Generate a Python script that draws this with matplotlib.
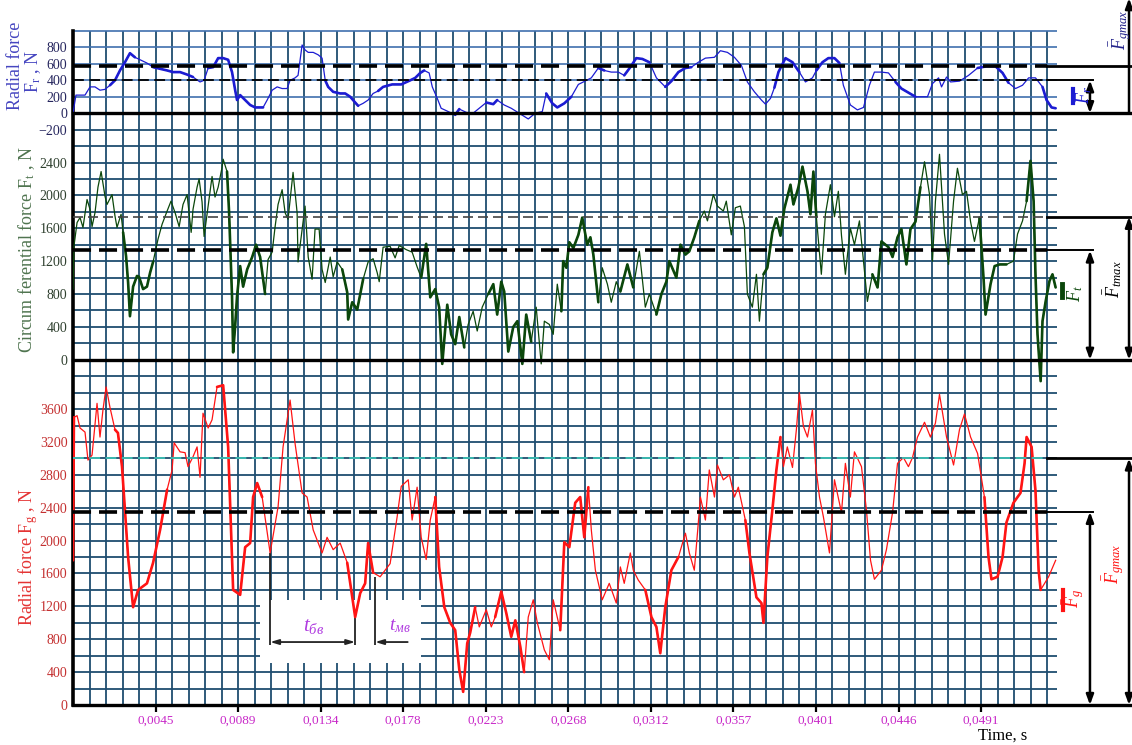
import numpy as np
import matplotlib.pyplot as plt
from matplotlib import transforms
from matplotlib.patches import Rectangle

plt.rcParams['font.family'] = ['Liberation Serif', 'DejaVu Serif']
plt.rcParams['mathtext.fontset'] = 'custom'
plt.rcParams['mathtext.rm'] = 'Liberation Serif'
plt.rcParams['mathtext.it'] = 'Liberation Serif:italic'

# ---- measured signals: time in ms, force in N ----
fr_t = [0.00, 0.16, 0.38, 0.65, 0.92, 1.19, 1.46, 1.73, 2.00, 2.27, 2.54, 2.81, 3.08, 3.35, 3.63,
        4.00, 4.33, 4.71, 5.09, 5.41, 5.79, 6.17, 6.49, 6.87, 7.09, 7.31, 7.58, 7.85, 8.12, 8.39,
        8.60, 8.77, 8.87, 9.04, 9.31, 9.58, 9.85, 10.12, 10.28, 10.50, 10.77, 11.04, 11.31, 11.58,
        11.74, 12.01, 12.17, 12.39, 12.55, 12.72, 12.99, 13.26, 13.47, 13.64, 13.80, 14.07, 14.45,
        14.72, 14.99, 15.26, 15.42, 15.69, 15.96, 16.23, 16.50, 16.77, 17.26, 17.75, 18.24, 18.51,
        18.78, 18.99, 19.26, 19.43, 19.70, 19.91, 20.29, 20.67, 20.89, 21.27, 21.64, 21.97, 22.35,
        22.73, 22.94, 23.32, 23.70, 24.19, 24.62, 25.00, 25.38, 25.59, 25.92, 26.19, 26.57, 26.95,
        27.33, 27.60, 28.03, 28.41, 28.73, 29.11, 29.49, 29.81, 30.14, 30.46, 30.79, 31.17, 31.55,
        32.03, 32.36, 32.74, 33.12, 33.44, 33.82, 34.20, 34.69, 35.01, 35.39, 35.77, 36.15, 36.47,
        36.85, 37.23, 37.45, 37.72, 37.93, 38.15, 38.53, 38.91, 39.28, 39.61, 39.99, 40.20, 40.53,
        40.85, 41.18, 41.45, 41.66, 42.04, 42.42, 42.75, 43.07, 43.34, 43.72, 44.10, 44.48, 44.80,
        45.18, 45.56, 45.89, 46.21, 46.48, 46.81, 46.97, 47.24, 47.46, 47.94, 48.43, 48.92, 49.40,
        49.89, 50.27, 50.59, 50.97, 51.35, 51.68, 52.05, 52.43, 52.65, 52.92, 53.14]
fr_v = [0, 220, 220, 220, 320, 320, 280, 290, 340, 400, 520, 620, 730, 680, 650,
        610, 560, 540, 520, 500, 500, 470, 440, 380, 400, 550, 560, 670, 670, 650,
        500, 280, 160, 220, 160, 100, 70, 70, 70, 160, 280, 320, 300, 300,
        400, 430, 460, 830, 770, 740, 740, 710, 670, 400, 320, 260, 240,
        240, 200, 130, 90, 120, 160, 240, 270, 320, 350, 350, 400, 430,
        490, 520, 490, 320, 180, 60, 20, -20, 50, 10, 0, 60, 130,
        110, 160, 100, 60, -10, -70, 0, 20, 240, 120, 70, 120, 200,
        350, 380, 430, 550, 520, 500, 500, 460, 560, 670, 660, 620, 430,
        320, 390, 500, 550, 560, 620, 670, 680, 760, 740, 680, 580, 380,
        260, 160, 110, 180, 310, 500, 670, 620, 500, 380, 430, 520, 620,
        670, 670, 610, 340, 100, 40, 70, 340, 500, 500, 490, 380, 300,
        250, 200, 200, 200, 360, 430, 320, 440, 380, 390, 460, 550, 570,
        570, 490, 370, 300, 340, 430, 430, 320, 160, 70, 60]

ft_t = [0.00, 0.05, 0.22, 0.38, 0.54, 0.76, 0.92, 1.03, 1.19, 1.35, 1.52, 1.73, 1.84, 2.11, 2.27,
        2.38, 2.60, 2.71, 2.87, 2.98, 3.08, 3.25, 3.46, 3.57, 3.79, 4.00, 4.17, 4.33, 4.60, 4.82,
        5.09, 5.30, 5.52, 5.74, 5.95, 6.17, 6.39, 6.49, 6.71, 6.82, 6.98, 7.09, 7.31, 7.52, 7.68,
        7.85, 8.06, 8.12, 8.33, 8.44, 8.60, 8.66, 8.77, 8.87, 9.04, 9.20, 9.42, 9.69, 9.90, 10.12,
        10.39, 10.55, 10.77, 10.93, 11.09, 11.31, 11.47, 11.63, 11.90, 12.12, 12.17, 12.39, 12.55,
        12.72, 12.93, 13.09, 13.31, 13.47, 13.64, 13.91, 14.07, 14.29, 14.56, 14.83, 14.88, 15.10,
        15.37, 15.69, 15.96, 16.23, 16.45, 16.56, 16.77, 17.15, 17.42, 17.64, 18.02, 18.34, 18.61,
        18.83, 19.10, 19.32, 19.59, 19.80, 19.97, 20.24, 20.45, 20.67, 20.89, 21.16, 21.37, 21.64,
        21.86, 22.13, 22.46, 22.73, 22.94, 23.16, 23.32, 23.54, 23.81, 24.03, 24.30, 24.51, 24.78,
        25.05, 25.32, 25.49, 25.76, 25.97, 26.19, 26.41, 26.51, 26.68, 26.84, 27.06, 27.33, 27.54,
        27.81, 27.98, 28.14, 28.41, 28.62, 28.90, 29.11, 29.38, 29.60, 29.98, 30.30, 30.63, 30.95,
        31.17, 31.55, 31.82, 32.09, 32.25, 32.63, 32.85, 33.12, 33.33, 33.60, 33.87, 34.14, 34.31,
        34.63, 34.85, 35.17, 35.33, 35.60, 35.82, 36.09, 36.31, 36.47, 36.74, 36.96, 37.12, 37.34,
        37.55, 37.82, 38.04, 38.26, 38.47, 38.80, 38.96, 39.23, 39.45, 39.72, 39.88, 40.04, 40.20,
        40.47, 40.69, 40.96, 41.18, 41.39, 41.56, 41.77, 42.04, 42.26, 42.53, 42.75, 42.96, 43.23,
        43.51, 43.72, 44.10, 44.32, 44.59, 44.80, 45.07, 45.29, 45.56, 45.83, 46.05, 46.32, 46.48,
        46.64, 46.86, 47.13, 47.35, 47.62, 47.83, 48.10, 48.32, 48.54, 48.75, 49.02, 49.24, 49.35,
        49.62, 49.84, 50.11, 50.48, 50.86, 51.08, 51.35, 51.57, 51.78, 51.95, 52.05, 52.16, 52.33,
        52.43, 52.60, 52.81, 52.97, 53.14]
ft_v = [860, 1380, 1670, 1730, 1610, 1950, 1830, 1620, 1790, 2100, 2290, 1990, 1890, 2010, 1750,
        1610, 1770, 1550, 1260, 940, 530, 890, 1020, 1010, 860, 890, 1060, 1190, 1470, 1650,
        1810, 1930, 1790, 1620, 1890, 2010, 1550, 1830, 2100, 2200, 1920, 1500, 1870, 2230, 1980,
        2100, 2340, 2440, 2290, 1800, 770, 90, 410, 770, 1140, 890, 1100, 1250, 1400, 1250,
        800, 1220, 1310, 1620, 1890, 2070, 1790, 1710, 2280, 1790, 1190, 1590, 1870,
        1250, 980, 1590, 1590, 1100, 940, 1250, 1010, 1190, 1100, 820, 490, 700,
        610, 980, 1190, 1230, 1060, 950, 1370, 1380, 1240, 1390, 1340, 1310, 1130,
        1000, 1410, 760, 860, 640, -50, 670, 310, 190, 520, 150, 430, 590,
        350, 640, 800, 920, 550, 950, 830, 100, 400, 470, -50, 550, 220,
        640, -50, 470, 430, 310, 920, 590, 1200, 1120, 1430, 1360, 1520, 1730,
        1400, 1490, 1280, 700, 1120, 920, 700, 950, 830, 1160, 880, 1320, 640,
        800, 550, 800, 950, 1200, 1000, 1400, 1280, 1320, 1490, 1690, 1810, 1690,
        2010, 1870, 1810, 1930, 1520, 1850, 1870, 1620, 800, 640, 1040, 470, 1040,
        1120, 1550, 1720, 1510, 1840, 2130, 1890, 2100, 2350, 2050, 1770, 2290, 1740,
        1040, 1770, 2130, 1740, 2050, 1510, 1040, 1600, 1400, 1690, 1200, 710, 1040,
        880, 1440, 1370, 1250, 1490, 1590, 1160, 1590, 1680, 2100, 2410, 2010, 1200,
        1930, 2500, 1530, 1160, 1930, 2330, 2010, 2050, 1680, 1440, 1730, 1000, 550,
        920, 1140, 1160, 1160, 1200, 1530, 1690, 1930, 2420, 1930, 1040, 310, -260,
        470, 710, 960, 1040, 880]

fg_t = [0.00, 0.05, 0.22, 0.38, 0.65, 0.81, 1.03, 1.30, 1.46, 1.62, 1.79, 2.00, 2.27, 2.43, 2.65,
        2.81, 2.98, 3.25, 3.52, 4.00, 4.33, 4.71, 5.09, 5.36, 5.47, 5.79, 6.06, 6.22, 6.49, 6.71,
        6.87, 7.03, 7.31, 7.52, 7.79, 8.12, 8.39, 8.66, 9.04, 9.31, 9.58, 9.74, 9.96, 10.23, 10.66,
        11.09, 11.36, 11.74, 12.01, 12.39, 12.66, 12.99, 13.47, 13.74, 14.07, 14.45, 14.83, 15.26,
        15.53, 15.80, 15.96, 16.23, 16.61, 17.15, 17.53, 17.75, 18.13, 18.34, 18.61, 18.83, 19.10,
        19.32, 19.59, 19.80, 20.08, 20.40, 20.67, 20.89, 21.10, 21.32, 21.48, 21.75, 21.97, 22.35,
        22.62, 22.83, 23.16, 23.43, 23.70, 23.92, 24.19, 24.40, 24.62, 24.89, 25.11, 25.49, 25.76,
        25.97, 26.35, 26.57, 26.84, 27.16, 27.43, 27.65, 27.87, 28.03, 28.25, 28.62, 29.00, 29.38,
        29.60, 29.81, 30.14, 30.30, 30.57, 30.95, 31.28, 31.55, 31.76, 32.03, 32.36, 32.74, 33.12,
        33.33, 33.60, 33.77, 33.93, 34.20, 34.41, 34.69, 34.85, 35.17, 35.50, 35.77, 35.98, 36.36,
        36.58, 36.96, 37.23, 37.34, 37.55, 37.82, 38.04, 38.26, 38.42, 38.63, 38.91, 39.12, 39.28,
        39.50, 39.72, 39.99, 40.15, 40.37, 40.58, 40.91, 41.18, 41.56, 41.77, 42.04, 42.26, 42.64,
        42.91, 43.13, 43.34, 43.72, 43.99, 44.32, 44.59, 44.91, 45.18, 45.40, 45.67, 46.05, 46.37,
        46.64, 46.86, 47.24, 47.62, 47.94, 48.21, 48.54, 48.92, 49.29, 49.51, 49.67, 50.00, 50.27,
        50.48, 50.86, 51.24, 51.46, 51.57, 51.84, 52.05, 52.16, 52.22, 52.33, 52.76, 53.14]
fg_v = [1760, 3500, 3520, 3370, 3320, 2980, 3040, 3670, 3260, 3590, 3870, 3620, 3350, 3310, 2900,
        2370, 1800, 1190, 1400, 1480, 1730, 2130, 2620, 2860, 3190, 3080, 3070, 2900, 3020, 3140,
        2770, 3550, 3370, 3470, 3870, 3890, 3140, 1400, 1340, 1920, 1970, 2530, 2700, 2530, 1850,
        2410, 3140, 3710, 3180, 2580, 2530, 2130, 1850, 2040, 1890, 1970, 1730, 1070,
        1360, 1480, 1970, 1610, 1560, 1720, 2290, 2660, 2740, 2250, 2650, 2040, 1770,
        2250, 2530, 1680, 1190, 1000, 910, 430, 160, 750, 880, 1190, 950, 1160,
        950, 1070, 1380, 1120, 830, 1030, 710, 400, 1070, 1280, 1000, 670, 550,
        1280, 910, 1980, 1920, 2460, 2530, 2040, 2650, 2130, 1640, 1280, 1480, 1240,
        1680, 1480, 1850, 1640, 1520, 1400, 1070, 950, 630, 1190, 1640, 1800, 2090,
        1850, 1640, 2090, 2530, 2250, 2860, 2530, 2920, 2740, 2800, 2530, 2650, 2250,
        1850, 1310, 1240, 1000, 1800, 2370, 2860, 3260, 2900, 3140, 2890, 3350, 3800,
        3390, 3260, 3590, 2940, 2530, 2290, 1850, 2740, 2340, 2940, 2530, 3080, 2900,
        2370, 1760, 1530, 1640, 1890, 2340, 2940, 3010, 2900, 3010, 3260, 3440, 3260,
        3430, 3780, 3260, 2920, 3350, 3540, 3260, 3060, 2530, 1800, 1530, 1560, 1800,
        2220, 2460, 2580, 2940, 3260, 3140, 2610, 1980, 1640, 1400, 1560, 1760]

# spans (ms) where each trace is drawn with the heavy pen
fr_heavy = [(2.0, 3.5), (4.3, 6.6), (7.2, 10.3), (13.5, 15.5), (16.3, 19.2), (20.3, 21.0),
            (22.3, 23.0), (25.5, 27.0), (28.2, 29.0), (29.8, 31.2), (32.0, 33.5), (37.8, 39.5),
            (40.0, 41.5), (44.3, 45.8), (48.8, 50.8), (52.2, 53.2)]
ft_heavy = [(2.7, 4.4), (8.3, 10.5), (14.4, 15.8), (18.8, 21.2), (22.2, 24.8), (26.3, 28.6),
            (29.6, 30.4), (31.4, 33.9), (37.3, 40.4), (43.1, 45.9), (48.9, 50.6), (51.4, 53.2)]
fg_heavy = [(0.0, 0.1), (2.2, 5.3), (7.7, 10.6), (14.5, 16.3), (19.5, 21.8), (22.8, 24.4),
            (26.3, 28.0), (30.8, 33.0), (36.3, 38.3), (49.2, 52.4)]

# mean and peak levels, N
fr_mean, fr_peak = 400, 580
ft_mean, ft_peak = 1330, 1740
fg_mean, fg_peak = 2350, 3000

x_ticks = [k / 224 for k in range(1, 12)]
x_labels = ['0,0045', '0,0089', '0,0134', '0,0178', '0,0223', '0,0268',
            '0,0312', '0,0357', '0,0401', '0,0446', '0,0491']

grid_col = '#1f4d70'
blue, green, red = '#1c1cd2', '#0b470b', '#ff1414'

fig = plt.figure(figsize=(11.32, 7.45), dpi=100)
rect = [73 / 1132, 40 / 745, 984 / 1132, 674 / 745]
ax_g = fig.add_axes(rect)
ax_t = fig.add_axes(rect, sharex=ax_g)
ax_r = fig.add_axes(rect, sharex=ax_g)

cell = 1 / 1120          # one grid column, s
x_max = 59.6 * cell
ax_g.set_xlim(0, x_max)
ax_g.set_ylim(0, 8200)
ax_t.set_ylim(-4200, 4000)
ax_r.set_ylim(-7200, 1000)

for a in (ax_g, ax_t, ax_r):
    for s in a.spines.values():
        s.set_visible(False)
for a in (ax_t, ax_r):
    a.set_facecolor('none')
    a.tick_params(axis='x', which='both', bottom=False, labelbottom=False)

# grid paper
ax_g.vlines([k * cell for k in range(0, 60)], 0, 8200, color=grid_col, lw=1.3, zorder=0.5)
ax_g.hlines([200 * j for j in range(1, 36)], 0, x_max, color=grid_col, lw=1.3, zorder=0.5)
ax_g.hlines([200 * j for j in range(36, 42)], 0, x_max, color='#3f6fae', lw=1.2,
            zorder=0.5, clip_on=False)
ax_g.spines['left'].set_visible(True)
ax_g.spines['left'].set_linewidth(2.6)

ax_g.add_patch(Rectangle((10.1e-3, 510), 8.7e-3, 770, facecolor='white',
                         edgecolor='none', zorder=0.8))


def trace(ax, t, v, heavy, col, lw_thin=0.9, lw_thick=1.9):
    t = np.asarray(t) / 1000
    v = np.asarray(v)
    ax.plot(t, v, color=col, lw=lw_thin, zorder=3)
    for a, b in heavy:
        m = (t >= a / 1000 - 1e-9) & (t <= b / 1000 + 1e-9)
        ax.plot(t[m], v[m], color=col, lw=lw_thick, zorder=3,
                solid_joinstyle='round', solid_capstyle='round')


trace(ax_g, fg_t, fg_v, fg_heavy, red)
trace(ax_t, ft_t, ft_v, ft_heavy, green)
trace(ax_r, fr_t, fr_v, fr_heavy, blue)

# level lines across the chart and their extensions to the right
xa_in, xa_out = 1.0335, 1.0732
x_short, x_long = 1.037, 1.077


def levels(ax, mean, peak, mean_style, peak_style, zero_to=x_long):
    tr = transforms.blended_transform_factory(ax.transAxes, ax.transData)
    ax.plot([0, 0.99], [peak, peak], transform=tr, zorder=4, **peak_style)
    ax.plot([0, 0.99], [mean, mean], transform=tr, zorder=4, **mean_style)
    ax.plot([0.99, x_long], [peak, peak], transform=tr, color='black', lw=2.0, clip_on=False)
    ax.plot([0.99, x_short], [mean, mean], transform=tr, color='black', lw=1.4, clip_on=False)
    ax.plot([0, zero_to], [0, 0], transform=tr, color='black', lw=2.4, clip_on=False, zorder=4)
    arrow = dict(arrowstyle='<|-|>,head_length=0.6,head_width=0.22', color='black',
                 lw=1.8, shrinkA=0, shrinkB=0)
    ax.annotate('', xy=(xa_in, mean), xytext=(xa_in, 0), xycoords=tr, textcoords=tr,
                arrowprops=arrow, annotation_clip=False)
    return tr, arrow


thick_dash = dict(color='black', lw=2.6, dashes=(5, 2.2))
thin_dash = dict(color='black', lw=1.3, dashes=(6, 3))

tr_r, arrow = levels(ax_r, fr_mean, fr_peak, thin_dash, thick_dash)
ax_r.annotate('', xy=(xa_out, 1400), xytext=(xa_out, 0), xycoords=tr_r, textcoords=tr_r,
              arrowprops=dict(arrow, arrowstyle='-|>,head_length=0.6,head_width=0.22'),
              annotation_clip=False)

tr_t, _ = levels(ax_t, ft_mean, ft_peak, thick_dash, dict(color='#444444', lw=1.2, dashes=(6, 3)))
ax_t.annotate('', xy=(xa_out, ft_peak), xytext=(xa_out, 0), xycoords=tr_t, textcoords=tr_t,
              arrowprops=arrow, annotation_clip=False)

tr_g, _ = levels(ax_g, fg_mean, fg_peak, thick_dash, dict(color='#3cc0b4', lw=1.3, dashes=(6, 3)))
ax_g.annotate('', xy=(xa_out, fg_peak), xytext=(xa_out, 0), xycoords=tr_g, textcoords=tr_g,
              arrowprops=arrow, annotation_clip=False)

# right-hand labels
lab = dict(rotation=90, ha='center', va='center', fontsize=13, clip_on=False)
ax_r.text(1.064, 1010, r'$\bar{F}_{gmax}$', transform=tr_r, color='#22228a', **lab)
ax_r.text(1.026, 220, r'$\bar{F}_{r}$', transform=tr_r, color=blue, **lab)
ax_r.plot([1.0165, 1.0165], [130, 300], transform=tr_r, color=blue, lw=3, clip_on=False)
ax_t.text(1.057, 980, r'$\bar{F}_{tmax}$', transform=tr_t, color='black', **lab)
ax_t.text(1.0165, 810, r'$\bar{F}_{t}$', transform=tr_t, color=green, **lab)
ax_t.plot([1.0055, 1.0055], [760, 920], transform=tr_t, color=green, lw=3.5, clip_on=False)
ax_g.text(1.057, 1720, r'$\bar{F}_{gmax}$', transform=tr_g, color=red, **lab)
ax_g.text(1.0165, 1300, r'$\bar{F}_{g}$', transform=tr_g, color=red, **lab)
ax_g.plot([1.0065, 1.0065], [1150, 1400], transform=tr_g, color=red, lw=3, clip_on=False)

# time-interval marks
dim = '#222222'
ax_g.vlines([10.66e-3], 730, 1850, color=dim, lw=1.3, zorder=2)
ax_g.vlines([15.26e-3], 730, 1070, color=dim, lw=1.3, zorder=2)
ax_g.vlines([16.34e-3], 730, 1560, color=dim, lw=1.3, zorder=2)
ax_g.annotate('', xy=(10.66e-3, 766), xytext=(15.26e-3, 766),
              arrowprops=dict(arrowstyle='<|-|>,head_length=0.5,head_width=0.15',
                              color=dim, lw=1.3, shrinkA=0, shrinkB=0))
ax_g.annotate('', xy=(16.34e-3, 766), xytext=(18.1e-3, 766),
              arrowprops=dict(arrowstyle='-|>,head_length=0.5,head_width=0.15',
                              color=dim, lw=1.3, shrinkA=0, shrinkB=0))
ax_g.text(13.0e-3, 960, r'$t_{бв}$', color='#b03ce0', fontsize=15, ha='center', va='center')
ax_g.text(17.7e-3, 960, r'$t_{мв}$', color='#b03ce0', fontsize=14, ha='center', va='center')

# axes ticks
ax_g.set_xticks(x_ticks)
ax_g.set_xticklabels(x_labels)
ax_g.tick_params(axis='x', direction='out', length=5, width=1.6, color='black',
                 labelcolor='#c828c8', labelsize=9.5, pad=2)
ax_g.set_yticks(range(0, 4000, 400))
ax_g.tick_params(axis='y', length=0, pad=4, labelcolor='#c43030', labelsize=10)
ax_t.set_yticks(range(0, 2800, 400))
ax_t.tick_params(axis='y', length=0, pad=4, labelcolor='#2f402f', labelsize=10)
ax_r.set_yticks(range(-200, 1000, 200))
ax_r.tick_params(axis='y', length=0, pad=4, labelcolor='#26265e', labelsize=10)

# axis titles
title = dict(rotation=90, fontsize=13, ha='center', va='center')
fig.text(16 / 1132, 1 - 66 / 745, 'Radial force', color='#4545c0', **title)
fig.text(33 / 1132, 1 - 72 / 745, r'F$_{\mathrm{r}}$ , N', color='#4545c0', **title)
fig.text(27 / 1132, 1 - 250 / 745, r'Circum ferential force F$_{\mathrm{t}}$ , N',
         color='#4f744f', **title)
fig.text(28 / 1132, 1 - 557 / 745, r'Radial force F$_{\mathrm{g}}$ , N',
         color='#e43434', **title)
fig.text(1003 / 1132, 1 - 736 / 745, 'Time, s', fontsize=12, ha='center', va='center')

fig.savefig('out.png', dpi=100)
